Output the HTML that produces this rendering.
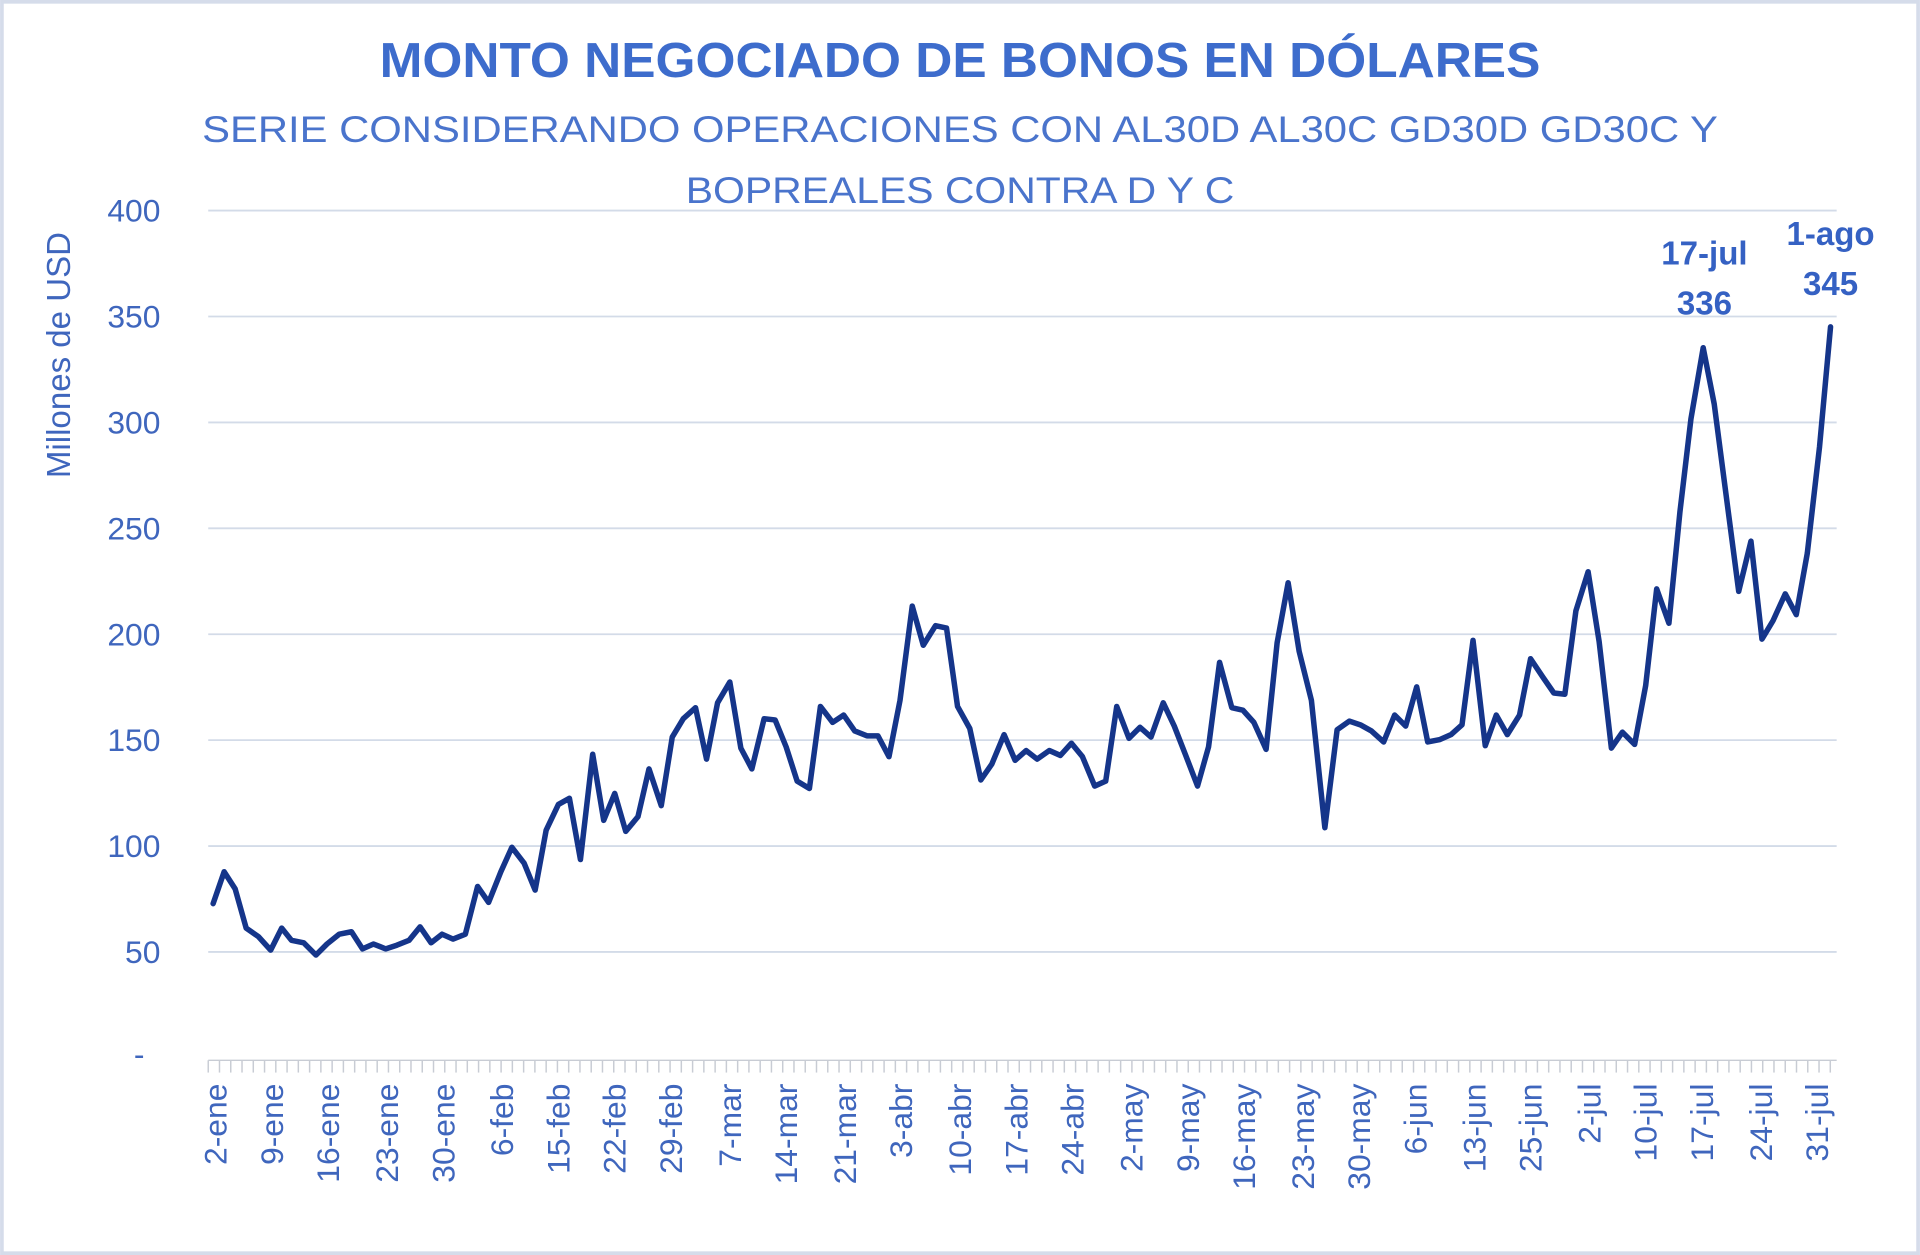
<!DOCTYPE html>
<html><head><meta charset="utf-8"><style>
html,body{margin:0;padding:0;background:#fff;}
svg{display:block;}
text{font-family:"Liberation Sans",sans-serif;}
</style></head><body>
<svg id="c" width="1920" height="1255" viewBox="0 0 1568 1025" xmlns="http://www.w3.org/2000/svg">
<rect x="1.5" y="1.5" width="1565" height="1022" fill="#fff" stroke="#d5dcea" stroke-width="3"/>
<text x="310" y="63" font-size="40" font-weight="bold" fill="#3d6ccc" textLength="948" lengthAdjust="spacingAndGlyphs">MONTO NEGOCIADO DE BONOS EN DÓLARES</text>
<text x="165" y="116" font-size="30" fill="#4a74cc" textLength="1238" lengthAdjust="spacingAndGlyphs">SERIE CONSIDERANDO OPERACIONES CON AL30D AL30C GD30D GD30C Y</text>
<text x="560" y="166" font-size="30" fill="#4a74cc" textLength="448" lengthAdjust="spacingAndGlyphs">BOPREALES CONTRA D Y  C</text>
<text transform="translate(57,290) rotate(-90)" text-anchor="middle" font-size="27" fill="#3f66bd">Millones de USD</text>
<g id="grid" stroke="#d3dbe8" stroke-width="1.5"></g>
<g id="ylab" font-size="26" fill="#3f66bd" text-anchor="end"></g>
<g id="ticks" stroke="#c8ccd4" stroke-width="1.2"></g>
<g id="xlab" font-size="26" fill="#3f66bd" text-anchor="end"></g>
<polyline id="ln" fill="none" stroke="#15358a" stroke-width="4.5" stroke-linejoin="round" stroke-linecap="round"/>
<text x="1392" y="216" text-anchor="middle" font-size="27" font-weight="bold" fill="#3561c3">17-jul</text>
<text x="1392" y="257" text-anchor="middle" font-size="27" font-weight="bold" fill="#3561c3">336</text>
<text x="1495" y="200" text-anchor="middle" font-size="27" font-weight="bold" fill="#3561c3">1-ago</text>
<text x="1495" y="241" text-anchor="middle" font-size="27" font-weight="bold" fill="#3561c3">345</text>
</svg>
<script>
var NS="http://www.w3.org/2000/svg";
function el(p,t,a,txt){var e=document.createElementNS(NS,t);for(var k in a)e.setAttribute(k,a[k]);if(txt)e.textContent=txt;document.getElementById(p).appendChild(e);}
for(var v=50;v<=400;v+=50){var y=864-1.73*v;el("grid","line",{x1:170,x2:1500,y1:y,y2:y});el("ylab","text",{x:131,y:y+9},String(v));}
el("ylab","text",{x:118,y:870},"-");
el("ticks","line",{x1:170,x2:1500,y1:866,y2:866});
for(var x=170;x<=1500;x+=9.2)el("ticks","line",{x1:x,x2:x,y1:866,y2:876});
var L=[["2-ene",176],["9-ene",222],["16-ene",268],["23-ene",316],["30-ene",362],["6-feb",410],["15-feb",456],["22-feb",502],["29-feb",548],["7-mar",596],["14-mar",642],["21-mar",690],["3-abr",736],["10-abr",784],["17-abr",830],["24-abr",876],["2-may",924],["9-may",970],["16-may",1016],["23-may",1064],["30-may",1110],["6-jun",1156],["13-jun",1204],["25-jun",1250],["2-jul",1298],["10-jul",1344],["17-jul",1390],["24-jul",1438],["31-jul",1484]];
L.forEach(function(l){el("xlab","text",{transform:"translate("+(l[1]+9)+",885) rotate(-90)"},l[0]);});
var P="174,738 183,712 192,726 201,758 211,765 221,776 230,758 238,768 248,770 258,780 267,771 277,763 287,761 296,775 305,771 315,775 324,772 334,768 343,757 352,770 361,763 370,767 380,763 390,724 399,737 409,712 418,692 428,705 437,727 446,678 456,657 465,652 474,702 484,616 493,670 502,648 511,679 521,667 530,628 540,658 549,602 558,587 568,578 577,620 586,574 596,557 605,611 614,628 624,587 633,588 642,610 651,638 661,644 670,577 680,590 689,584 698,597 708,601 717,601 726,618 735,572 745,495 754,527 764,511 773,513 782,577 792,595 801,637 810,624 820,600 829,621 838,613 847,620 857,613 866,617 875,607 884,618 894,642 903,638 912,577 922,603 931,594 940,602 950,574 959,593 968,616 978,642 987,610 996,541 1006,578 1015,580 1024,590 1034,612 1043,525 1052,476 1061,532 1071,572 1082,676 1092,596 1102,589 1111,592 1120,597 1130,606 1139,584 1148,593 1157,561 1166,606 1176,604 1185,600 1194,592 1203,523 1213,609 1222,584 1231,600 1241,584 1250,538 1260,553 1269,566 1278,567 1287,499 1297,467 1306,524 1316,611 1325,598 1335,608 1344,560 1353,481 1363,509 1372,418 1381,342 1391,284 1400,330 1409,399 1420,483 1430,442 1439,522 1448,507 1458,485 1467,502 1476,452 1486,365 1495,267";
document.getElementById("ln").setAttribute("points",P);
</script>
</body></html>
